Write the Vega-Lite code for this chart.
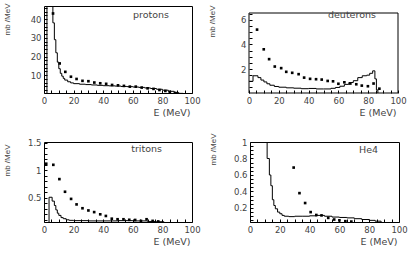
{
  "$schema": "https://vega.github.io/schema/vega-lite/v6.json",
  "padding": {"left": 2, "top": 2, "right": 0, "bottom": 0},
  "autosize": {"type": "pad"},
  "background": "white",
  "config": {
    "view": {"stroke": "black", "strokeWidth": 1},
    "axis": {
      "domain": false, "grid": false, "ticks": true, "tickSize": -3, "tickColor": "#000", "tickWidth": 1, "tickCount": 100,
      "labelFont": "DejaVu Sans", "labelFontSize": 8.5, "labelColor": "#444", "labelPadding": 6,
      "labelOverlap": false, "labelFlush": false, "labelBound": false,
      "titleFont": "DejaVu Sans", "titleFontSize": 9.5, "titleFontWeight": "normal", "titleColor": "#444"
    }
  },
  "datasets": {
    "ph": [{"E":0,"v":0},{"E":2,"v":60},{"E":6,"v":38},{"E":7,"v":29},{"E":8,"v":22},{"E":9,"v":17},{"E":10,"v":13.5},{"E":11,"v":11},{"E":12,"v":9.5},{"E":13,"v":8.3},{"E":14,"v":7.4},{"E":16,"v":6.5},{"E":18,"v":5.9},{"E":20,"v":5.5},{"E":24,"v":5.2},{"E":28,"v":5.0},{"E":32,"v":4.8},{"E":36,"v":4.6},{"E":40,"v":4.4},{"E":44,"v":4.3},{"E":48,"v":4.2},{"E":52,"v":4.0},{"E":56,"v":3.9},{"E":60,"v":3.7},{"E":64,"v":3.5},{"E":68,"v":3.2},{"E":72,"v":2.9},{"E":76,"v":2.5},{"E":80,"v":2.0},{"E":84,"v":1.4},{"E":88,"v":0.8},{"E":91,"v":0.3},{"E":94,"v":0}],
    "pp": [{"E":6.1,"v":43},{"E":10.6,"v":16.3},{"E":14.4,"v":11.8},{"E":18.2,"v":9.2},{"E":22,"v":8.0},{"E":26,"v":7.0},{"E":30,"v":6.8},{"E":34,"v":6.1},{"E":38,"v":5.7},{"E":42,"v":5.4},{"E":46,"v":4.8},{"E":50,"v":4.6},{"E":54,"v":4.3},{"E":58,"v":3.9},{"E":62,"v":3.9},{"E":66,"v":3.4},{"E":70,"v":3.0},{"E":74,"v":2.7},{"E":78,"v":2.1},{"E":82,"v":1.6},{"E":85,"v":1.1},{"E":88.5,"v":0.5}],
    "dh": [{"E":0,"v":1.0},{"E":2.7,"v":1.45},{"E":6,"v":1.3},{"E":8,"v":1.1},{"E":10,"v":0.95},{"E":12,"v":0.8},{"E":14,"v":0.68},{"E":17,"v":0.58},{"E":20,"v":0.52},{"E":25,"v":0.47},{"E":30,"v":0.44},{"E":35,"v":0.4},{"E":40,"v":0.42},{"E":45,"v":0.38},{"E":50,"v":0.38},{"E":55,"v":0.43},{"E":58,"v":0.5},{"E":61,"v":0.6},{"E":64,"v":0.75},{"E":67,"v":0.9},{"E":70,"v":1.05},{"E":73,"v":1.3},{"E":76,"v":1.45},{"E":79,"v":1.5},{"E":81,"v":1.65},{"E":83,"v":1.85},{"E":84.5,"v":1.2},{"E":85.5,"v":0.3},{"E":86.5,"v":0}],
    "dp": [{"E":5.4,"v":5.2},{"E":9.9,"v":3.6},{"E":13.5,"v":2.8},{"E":17.3,"v":2.2},{"E":21.6,"v":2.07},{"E":25,"v":1.77},{"E":29,"v":1.69},{"E":33.3,"v":1.58},{"E":37,"v":1.3},{"E":41,"v":1.2},{"E":45,"v":1.17},{"E":48.8,"v":1.14},{"E":52.8,"v":1.03},{"E":56.4,"v":1.0},{"E":60,"v":0.8},{"E":64,"v":0.92},{"E":68,"v":0.82},{"E":72,"v":0.76},{"E":75.7,"v":0.65},{"E":79.8,"v":0.6},{"E":83.6,"v":0.82},{"E":87.5,"v":0.4}],
    "th": [{"E":0,"v":0},{"E":3.4,"v":0.51},{"E":5.5,"v":0.44},{"E":7,"v":0.36},{"E":8,"v":0.28},{"E":9,"v":0.22},{"E":10,"v":0.18},{"E":11.5,"v":0.14},{"E":13,"v":0.12},{"E":15,"v":0.1},{"E":17,"v":0.09},{"E":20,"v":0.085},{"E":30,"v":0.08},{"E":40,"v":0.08},{"E":50,"v":0.085},{"E":60,"v":0.08},{"E":70,"v":0.07},{"E":76,"v":0.065},{"E":81,"v":0}],
    "tp": [{"E":1.5,"v":1.12},{"E":6.3,"v":1.1},{"E":10.4,"v":0.84},{"E":14.2,"v":0.61},{"E":18.3,"v":0.48},{"E":22,"v":0.38},{"E":26,"v":0.31},{"E":30,"v":0.27},{"E":33.9,"v":0.24},{"E":38,"v":0.2},{"E":41.8,"v":0.17},{"E":45.8,"v":0.12},{"E":49.7,"v":0.11},{"E":53.7,"v":0.11},{"E":57.6,"v":0.1},{"E":61.6,"v":0.097},{"E":65.5,"v":0.08},{"E":69.3,"v":0.11},{"E":73.4,"v":0.08},{"E":77.2,"v":0.07}],
    "hh": [{"E":0,"v":3},{"E":11.5,"v":0.8},{"E":13,"v":0.6},{"E":14,"v":0.47},{"E":15,"v":0.3},{"E":16,"v":0.23},{"E":17,"v":0.19},{"E":18.5,"v":0.15},{"E":20,"v":0.13},{"E":21.5,"v":0.11},{"E":23,"v":0.1},{"E":26,"v":0.095},{"E":30,"v":0.1},{"E":35,"v":0.1},{"E":40,"v":0.105},{"E":45,"v":0.11},{"E":50,"v":0.1},{"E":55,"v":0.09},{"E":60,"v":0.085},{"E":65,"v":0.08},{"E":70,"v":0.07},{"E":75,"v":0.06},{"E":80,"v":0.05},{"E":84,"v":0.04},{"E":88,"v":0.02}],
    "hp": [{"E":29.3,"v":0.69},{"E":33.2,"v":0.38},{"E":37,"v":0.26},{"E":40.7,"v":0.15},{"E":44.5,"v":0.115},{"E":48,"v":0.11},{"E":52.5,"v":0.08},{"E":56.5,"v":0.06},{"E":60,"v":0.05},{"E":64,"v":0.04},{"E":68,"v":0.035}]
  },
  "spacing": 15,
  "vconcat": [
    {
      "spacing": 7,
      "hconcat": [
        {
          "width": 148, "height": 87,
          "layer": [
            {
              "data": {"name": "ph"},
              "mark": {"type": "line", "interpolate": "step-after", "color": "black", "strokeWidth": 1, "clip": true},
              "encoding": {
                "x": {"field": "E", "type": "quantitative", "scale": {"domain": [0, 100], "nice": false, "zero": false},
                      "axis": {"values": [0,5,10,15,20,25,30,35,40,45,50,55,60,65,70,75,80,85,90,95,100], "tickCount": 100, "format": ".3~r", "labelOverlap": false, "labelFontSize": {"condition": {"test": "datum.value % 20 != 0", "value": 0}, "value": 8.5}, "labelExpr": "datum.value % 20 == 0 ? datum.label : ''", "title": "E (MeV)", "titleAnchor": "end", "titleAlign": "right", "titleX": 146, "titleY": 14, "titleBaseline": "top"}},
                "y": {"field": "v", "type": "quantitative", "scale": {"domain": [0.5, 47], "nice": false, "zero": false},
                      "axis": {"values": [2,4,6,8,10,12,14,16,18,20,22,24,26,28,30,32,34,36,38,40,42,44,46], "tickCount": 100, "format": ".3~r", "labelOverlap": false, "labelFontSize": {"condition": {"test": "datum.value % 10 != 0", "value": 0}, "value": 8.5}, "labelExpr": "datum.value % 10 == 0 ? datum.label : ''", "title": "mb /MeV", "titleFont": "Liberation Sans", "titleFontSize": 8, "titleAngle": 270, "titleAnchor": "end", "titleAlign": "right", "titleX": -33, "titleY": -3, "titleBaseline": "bottom"}}
              }
            },
            {
              "data": {"name": "pp"},
              "mark": {"type": "point", "shape": "square", "filled": true, "size": 7, "color": "black", "opacity": 1, "clip": true},
              "encoding": {"x": {"field": "E", "type": "quantitative"}, "y": {"field": "v", "type": "quantitative"}}
            },
            {
              "data": {"values": [{}]},
              "mark": {"type": "text", "align": "right", "baseline": "middle", "font": "DejaVu Sans", "fontSize": 9.5, "color": "#444"},
              "encoding": {"x": {"datum": 84.5, "type": "quantitative"}, "y": {"datum": 42, "type": "quantitative"}, "text": {"value": "protons"}}
            }
          ]
        },
        {
          "width": 149, "height": 87,
          "view": {"stroke": null},
          "layer": [
            {
              "data": {"name": "dh"},
              "mark": {"type": "line", "interpolate": "step-after", "color": "black", "strokeWidth": 1, "clip": true},
              "encoding": {
                "x": {"field": "E", "type": "quantitative", "scale": {"domain": [0, 100], "nice": false, "zero": false},
                      "axis": {"values": [0,5,10,15,20,25,30,35,40,45,50,55,60,65,70,75,80,85,90,95,100], "tickCount": 100, "format": ".3~r", "labelOverlap": false, "labelFontSize": {"condition": {"test": "datum.value % 20 != 0", "value": 0}, "value": 8.5}, "labelExpr": "datum.value % 20 == 0 ? datum.label : ''", "title": "E (MeV)", "titleAnchor": "end", "titleAlign": "right", "titleX": 147, "titleY": 14, "titleBaseline": "top"}},
                "y": {"field": "v", "type": "quantitative", "scale": {"domain": [0.05, 7.1188], "nice": false, "zero": false},
                      "axis": {"values": [0.5,1,1.5,2,2.5,3,3.5,4,4.5,5,5.5,6,6.5], "tickCount": 100, "format": ".3~r", "labelOverlap": false, "labelFontSize": {"condition": {"test": "datum.value % 2 != 0", "value": 0}, "value": 8.5}, "labelExpr": "datum.value % 2 == 0 ? datum.label : ''", "title": "mb /MeV", "titleFont": "Liberation Sans", "titleFontSize": 8, "titleAngle": 270, "titleAnchor": "end", "titleAlign": "right", "titleX": -33, "titleY": -1, "titleBaseline": "bottom"}}
              }
            },
            {
              "data": {"values": [{}]},
              "mark": {"type": "rect", "fillOpacity": 0, "stroke": "black", "strokeWidth": 1},
              "encoding": {"x": {"datum": 0, "type": "quantitative"}, "x2": {"datum": 100}, "y": {"datum": 0.05, "type": "quantitative"}, "y2": {"datum": 6.55}}
            },
            {
              "data": {"name": "dp"},
              "mark": {"type": "point", "shape": "square", "filled": true, "size": 7, "color": "black", "opacity": 1},
              "encoding": {"x": {"field": "E", "type": "quantitative"}, "y": {"field": "v", "type": "quantitative"}}
            },
            {
              "data": {"values": [{}]},
              "mark": {"type": "text", "align": "right", "baseline": "middle", "font": "DejaVu Sans", "fontSize": 9.5, "color": "#444"},
              "encoding": {"x": {"datum": 85.2, "type": "quantitative"}, "y": {"datum": 6.4, "type": "quantitative"}, "text": {"value": "deuterons"}}
            }
          ]
        }
      ]
    },
    {
      "spacing": 7,
      "hconcat": [
        {
          "width": 148, "height": 80,
          "layer": [
            {
              "data": {"name": "th"},
              "mark": {"type": "line", "interpolate": "step-after", "color": "black", "strokeWidth": 1, "clip": true},
              "encoding": {
                "x": {"field": "E", "type": "quantitative", "scale": {"domain": [0, 100], "nice": false, "zero": false},
                      "axis": {"values": [0,5,10,15,20,25,30,35,40,45,50,55,60,65,70,75,80,85,90,95,100], "tickCount": 100, "format": ".3~r", "labelOverlap": false, "labelFontSize": {"condition": {"test": "datum.value % 20 != 0", "value": 0}, "value": 8.5}, "labelExpr": "datum.value % 20 == 0 ? datum.label : ''", "title": "E (MeV)", "titleAnchor": "end", "titleAlign": "right", "titleX": 146, "titleY": 14, "titleBaseline": "top"}},
                "y": {"field": "v", "type": "quantitative", "scale": {"domain": [0.06, 1.515], "nice": false, "zero": false},
                      "axis": {"values": [0.1,0.2,0.3,0.4,0.5,0.6,0.7,0.8,0.9,1,1.1,1.2,1.3,1.4,1.5], "tickCount": 100, "format": ".3~r", "labelOverlap": false, "labelFontSize": {"condition": {"test": "indexof([0.5,1,1.5], datum.value) < 0", "value": 0}, "value": 8.5}, "labelExpr": "indexof([0.5,1,1.5], datum.value) >= 0 ? datum.label : ''", "title": "mb /MeV", "titleFont": "Liberation Sans", "titleFontSize": 8, "titleAngle": 270, "titleAnchor": "end", "titleAlign": "right", "titleX": -33, "titleY": 2, "titleBaseline": "bottom"}}
              }
            },
            {
              "data": {"name": "tp"},
              "mark": {"type": "point", "shape": "square", "filled": true, "size": 7, "color": "black", "opacity": 1, "clip": true},
              "encoding": {"x": {"field": "E", "type": "quantitative"}, "y": {"field": "v", "type": "quantitative"}}
            },
            {
              "data": {"values": [{}]},
              "mark": {"type": "text", "align": "right", "baseline": "middle", "font": "DejaVu Sans", "fontSize": 9.5, "color": "#444"},
              "encoding": {"x": {"datum": 79.7, "type": "quantitative"}, "y": {"datum": 1.38, "type": "quantitative"}, "text": {"value": "tritons"}}
            }
          ]
        },
        {
          "width": 149, "height": 80,
          "layer": [
            {
              "data": {"name": "hh"},
              "mark": {"type": "line", "interpolate": "step-after", "color": "black", "strokeWidth": 1, "clip": true},
              "encoding": {
                "x": {"field": "E", "type": "quantitative", "scale": {"domain": [0, 100], "nice": false, "zero": false},
                      "axis": {"values": [0,5,10,15,20,25,30,35,40,45,50,55,60,65,70,75,80,85,90,95,100], "tickCount": 100, "format": ".3~r", "labelOverlap": false, "labelFontSize": {"condition": {"test": "datum.value % 20 != 0", "value": 0}, "value": 8.5}, "labelExpr": "datum.value % 20 == 0 ? datum.label : ''", "title": "E (MeV)", "titleAnchor": "end", "titleAlign": "right", "titleX": 147, "titleY": 14, "titleBaseline": "top"}},
                "y": {"field": "v", "type": "quantitative", "scale": {"domain": [0.03, 1.0], "nice": false, "zero": false},
                      "axis": {"values": [0.05,0.1,0.15,0.2,0.25,0.3,0.35,0.4,0.45,0.5,0.55,0.6,0.65,0.7,0.75,0.8,0.85,0.9,0.95,1], "tickCount": 100, "format": ".3~r", "labelOverlap": false, "labelFontSize": {"condition": {"test": "indexof([0.2,0.4,0.6,0.8,1], datum.value) < 0", "value": 0}, "value": 8.5}, "labelExpr": "indexof([0.2,0.4,0.6,0.8,1], datum.value) >= 0 ? datum.label : ''", "title": "mb /MeV", "titleFont": "Liberation Sans", "titleFontSize": 8, "titleAngle": 270, "titleAnchor": "end", "titleAlign": "right", "titleX": -33, "titleY": -9, "titleBaseline": "bottom"}}
              }
            },
            {
              "data": {"name": "hp"},
              "mark": {"type": "point", "shape": "square", "filled": true, "size": 7, "color": "black", "opacity": 1, "clip": true},
              "encoding": {"x": {"field": "E", "type": "quantitative"}, "y": {"field": "v", "type": "quantitative"}}
            },
            {
              "data": {"values": [{}]},
              "mark": {"type": "text", "align": "right", "baseline": "middle", "font": "DejaVu Sans", "fontSize": 9.5, "color": "#444"},
              "encoding": {"x": {"datum": 86, "type": "quantitative"}, "y": {"datum": 0.9, "type": "quantitative"}, "text": {"value": "He4"}}
            }
          ]
        }
      ]
    }
  ]
}
